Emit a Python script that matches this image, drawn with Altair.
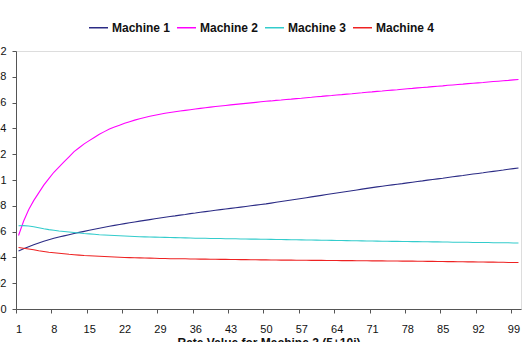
import altair as alt
import pandas as pd

series_names = ["Machine 1", "Machine 2", "Machine 3", "Machine 4"]
series_colors = ["#2B2B85", "#FF00FF", "#33CCCC", "#EE2222"]

x_values = list(range(1, 101))
x_tick_labels = [1, 8, 15, 22, 29, 36, 43, 50, 57, 64, 71, 78, 85, 92, 99]
y_tick_values = [0, 0.02, 0.04, 0.06, 0.08, 0.1, 0.12, 0.14, 0.16, 0.18, 0.2]

machine1 = [
    .0450, .0467, .0483, .0498, .0512, .0525, .0537, .0548, .0558, .0567,
    .0576, .0585, .0594, .0602, .0610, .0618, .0626, .0634, .0641, .0648,
    .0655, .0662, .0669, .0675, .0681, .0687, .0693, .0699, .0705, .0711,
    .0717, .0722, .0728, .0733, .0739, .0744, .0750, .0755, .0760, .0765,
    .0770, .0775, .0780, .0785, .0790, .0795, .0800, .0805, .0810, .0815,
    .0821, .0827, .0833, .0839, .0845, .0851, .0857, .0863, .0869, .0875,
    .0881, .0887, .0893, .0899, .0905, .0911, .0917, .0923, .0929, .0935,
    .0941, .0947, .0952, .0957, .0962, .0967, .0972, .0978, .0983, .0988,
    .0993, .0999, .1004, .1009, .1014, .1020, .1025, .1030, .1035, .1041,
    .1046, .1051, .1056, .1062, .1067, .1072, .1077, .1083, .1088, .1093,
]
machine2 = [
    .057, .068, .077, .084, .090, .096, .101, .106, .110, .114,
    .118, .122, .125, .128, .1305, .133, .1355, .1375, .1395, .141,
    .1425, .144, .1452, .1464, .1475, .1485, .1494, .1502, .151, .1517,
    .1523, .1529, .1535, .154, .1545, .155, .1555, .156, .1565, .157,
    .1574, .1578, .1582, .1586, .159, .1594, .1598, .1602, .1606, .161,
    .1613, .1617, .162, .1624, .1627, .1631, .1634, .1638, .1641, .1645,
    .1648, .1652, .1655, .1659, .1662, .1666, .1669, .1673, .1676, .168,
    .1683, .1687, .169, .1694, .1697, .17, .1704, .1707, .171, .1714,
    .1717, .172, .1724, .1727, .173, .1734, .1737, .174, .1743, .1747,
    .175, .1753, .1756, .176, .1763, .1766, .1769, .1772, .1776, .1779,
]
machine3 = [
    .0645, .0646, .0644, .0638, .0630, .0622, .0615, .0610, .0605, .0601,
    .0597, .0593, .0589, .0585, .0582, .0579, .0576, .0574, .0572, .0570,
    .0568, .0566, .0564, .0562, .0560, .0559, .0558, .0557, .0556, .0555,
    .0554, .0553, .0552, .0551, .0550, .0549, .0549, .0548, .0547, .0546,
    .0546, .0545, .0545, .0544, .0543, .0543, .0542, .0542, .0541, .0541,
    .0540, .0539, .0539, .0538, .0537, .0537, .0536, .0535, .0535, .0534,
    .0533, .0533, .0532, .0531, .0531, .0530, .0529, .0529, .0528, .0527,
    .0527, .0526, .0525, .0525, .0524, .0524, .0523, .0523, .0522, .0522,
    .0521, .0521, .0520, .0520, .0519, .0519, .0518, .0518, .0517, .0517,
    .0516, .0516, .0515, .0515, .0514, .0514, .0513, .0513, .0512, .0512,
]
machine4 = [
    .0477, .0471, .0465, .0459, .0452, .0446, .0440, .0436, .0432, .0428,
    .0424, .0421, .0418, .0415, .0413, .0411, .0409, .0407, .0405, .0403,
    .0401, .0399, .0398, .0397, .0396, .0395, .0394, .0393, .0392, .0391,
    .0390, .0390, .0389, .0389, .0388, .0388, .0387, .0387, .0386, .0386,
    .0385, .0385, .0384, .0384, .0383, .0383, .0382, .0382, .0381, .0381,
    .0380, .0380, .0379, .0379, .0379, .0378, .0378, .0378, .0377, .0377,
    .0377, .0376, .0376, .0376, .0375, .0375, .0375, .0374, .0374, .0374,
    .0373, .0373, .0373, .0372, .0372, .0372, .0371, .0371, .0371, .0370,
    .0370, .0369, .0369, .0368, .0368, .0367, .0367, .0366, .0366, .0365,
    .0365, .0364, .0364, .0363, .0363, .0362, .0362, .0361, .0361, .0360,
]

rows = []
for name, vals in zip(series_names, [machine1, machine2, machine3, machine4]):
    for xv, yv in zip(x_values, vals):
        rows.append({"x": xv, "value": yv, "series": name})
df = pd.DataFrame(rows)

W, H = 505, 258
half_band = W / 100 / 2
FONT = "Liberation Sans"

chart = alt.Chart(df).mark_line(strokeWidth=1.1).encode(
    x=alt.X("x:Q",
            scale=alt.Scale(domain=[0.5, 100.5], nice=False, zero=False),
            axis=alt.Axis(values=x_tick_labels, title="Rate Value for Machine 2 (5+10i)",
                          grid=False, tickSize=4, tickOffset=-half_band, labelOffset=half_band,
                          labelPadding=10, labelFontSize=11, labelFont=FONT, labelColor="#111111",
                          titleFont=FONT, titleFontSize=12, titleFontWeight="bold",
                          titleColor="#111111", titlePadding=3,
                          domainColor="#555555", tickColor="#555555",
                          labelFlush=False, labelOverlap=False)),
    y=alt.Y("value:Q",
            scale=alt.Scale(domain=[0, 0.2], nice=False),
            axis=alt.Axis(values=y_tick_values, format=".2~f", title=None, grid=False,
                          tickSize=4, labelPadding=6, labelFontSize=11, labelFont=FONT,
                          labelColor="#111111", domainColor="#555555", tickColor="#555555",
                          labelFlush=False, labelOverlap=False)),
    color=alt.Color("series:N",
                    scale=alt.Scale(domain=series_names, range=series_colors),
                    legend=alt.Legend(title=None, orient="none", direction="horizontal",
                                      legendX=72, legendY=-34, symbolType="stroke",
                                      symbolSize=361, symbolStrokeWidth=1.5,
                                      labelFont=FONT, labelFontSize=12, labelFontWeight="bold",
                                      labelColor="#111111", columnPadding=3, labelOffset=3)),
).properties(
    width=W, height=H,
    autosize=alt.AutoSizeParams(type="none"),
    padding={"left": 16, "top": 51, "right": 5, "bottom": 33},
).configure_view(
    stroke="#888888", strokeWidth=1
).configure(background="white")

chart.save("out.html", embed_options={"renderer": "svg", "actions": False})
